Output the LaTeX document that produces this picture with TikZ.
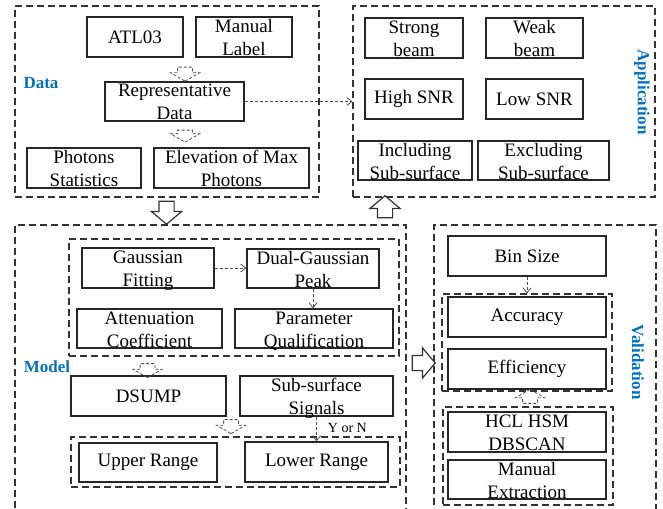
\documentclass[tikz,border=0pt]{standalone}
\usepackage{fontspec}
\setmainfont{Liberation Serif}
\usetikzlibrary{shapes.arrows,arrows.meta}
\definecolor{labelblue}{HTML}{0070C0}
\newcommand\topstrut{\rule{0pt}{14pt}}
\tikzset{
  box/.style={draw=black!85, line width=1.4pt, inner sep=0pt, minimum height=40pt, align=center, font=\fontsize{19}{23}\selectfont},
  two/.style={text depth=0pt},
  grp/.style={draw=black!80, line width=1.2pt, dash pattern=on 7pt off 4pt, inner sep=0pt},
  flow/.style={draw=black!70, line width=0.8pt, dash pattern=on 3pt off 2pt, -{Straight Barb[length=5pt,width=8pt]}},
  bigarrow/.style={single arrow, draw=black!80, line width=1.2pt, fill=white, inner xsep=0pt, inner ysep=7pt, minimum height=23pt, minimum width=29pt, single arrow head extend=7.5pt, single arrow tip angle=100},
  smallarrow/.style={single arrow, draw=black!70, line width=0.8pt, dash pattern=on 3pt off 2pt, inner xsep=0pt, inner ysep=7pt, minimum height=14pt, minimum width=28pt, single arrow head extend=7pt, single arrow tip angle=120},
  part/.style={font=\fontsize{17}{20}\selectfont\bfseries, text=labelblue, inner sep=0pt},
}
\begin{document}
\begin{tikzpicture}[x=1pt,y=-1pt]
\useasboundingbox (0,0) rectangle (663,508);
\clip (0,0) rectangle (663,508);
% outer groups
\node[grp, minimum width=304pt, minimum height=191pt] (datagrp) at (167,101.5) {};
\node[grp, minimum width=302pt, minimum height=191pt] (appgrp) at (504,101.5) {};
\node[grp, minimum width=391pt, minimum height=295pt] (modelgrp) at (210.5,372.5) {};
\node[grp, minimum width=222pt, minimum height=295pt] (valgrp) at (545,372.5) {};
% inner groups
\node[grp, minimum width=330pt, minimum height=117pt] (fitgrp) at (234,297.5) {};
\node[grp, minimum width=329pt, minimum height=50pt] (rangegrp) at (235.5,462) {};
\node[grp, minimum width=170pt, minimum height=97pt] (evalgrp) at (527,342.5) {};
\node[grp, minimum width=170pt, minimum height=98pt] (refgrp) at (528,456) {};
\node[part] (datalbl) at (41,83) {Data};
\node[part, rotate=-90] (applbl) at (642,92) {Application};
\node[part] (modellbl) at (47,367) {Model};
\node[part, rotate=-90] (vallbl) at (638,362) {Validation};
% data
\node[box, minimum width=96pt] (atl) at (135,37) {ATL03};
\node[box, two, minimum width=96pt] (manual) at (244,37) {\topstrut Manual\\Label};
\node[box, two, minimum width=139pt, minimum height=39pt] (repr) at (174.5,101.5) {\topstrut Representative\\Data};
\node[box, two, minimum width=114pt] (phstat) at (84,168) {\topstrut Photons\\Statistics};
\node[box, two, minimum width=155pt] (elev) at (231.5,168) {\topstrut Elevation of Max\\Photons};
\node[smallarrow, rotate=-90] (d1) at (185,72) {};
\node[smallarrow, rotate=-90, minimum height=12pt] (d2) at (185,134) {};
% application
\node[box, two, minimum width=98pt] (strong) at (414,38) {\topstrut Strong\\beam};
\node[box, two, minimum width=97pt] (weak) at (534.5,38) {\topstrut Weak\\beam};
\node[box, minimum width=98pt] (high) at (414,99) {High SNR};
\node[box, minimum width=97pt] (low) at (534.5,99) {Low SNR};
\node[box, two, minimum width=114pt, minimum height=39pt] (incl) at (415,160.5) {\topstrut Including\\Sub-surface};
\node[box, two, minimum width=131pt, minimum height=39pt] (excl) at (543.5,160.5) {\topstrut Excluding\\Sub-surface};
\draw[flow] (repr.east) -- (repr.east -| appgrp.west);
% model
\node[box, two, minimum width=132pt] (gauss) at (148,268) {\topstrut Gaussian\\Fitting};
\node[box, two, minimum width=132pt, minimum height=39pt] (dual) at (313,268.5) {\topstrut Dual-Gaussian\\Peak};
\node[box, two, minimum width=145pt, minimum height=39pt] (atten) at (149.5,328.5) {\topstrut Attenuation\\Coefficient};
\node[box, two, minimum width=158pt, minimum height=39pt] (param) at (314,328.5) {\topstrut Parameter\\Qualification};
\node[box, minimum width=155pt] (dsump) at (148.5,396) {DSUMP};
\node[box, two, minimum width=153pt] (subsig) at (316.5,396) {\topstrut Sub-surface\\Signals};
\node[box, minimum width=138pt, minimum height=39pt] (upper) at (148,462.5) {Upper Range};
\node[box, minimum width=143pt] (lower) at (316.5,462) {Lower Range};
\draw[flow] (gauss.east) -- (gauss.east -| dual.west);
\draw[flow] (dual.south) -- (dual.south |- param.north);
\draw[flow] (subsig.south) -- (lower.north) node[pos=0.45, right=11pt, inner sep=0pt, font=\fontsize{14}{16}\selectfont] (yn) {Y or N};
\node[smallarrow, rotate=-90] (d3) at (147.5,368.5) {};
\node[smallarrow, rotate=-90] (d4) at (231,424.5) {};
% validation
\node[box, minimum width=158pt] (binsize) at (527,256) {Bin Size};
\node[box, minimum width=158pt] (acc) at (527,317) {Accuracy};
\node[box, minimum width=158pt] (eff) at (527,369) {Efficiency};
\node[box, two, minimum width=158pt] (hcl) at (527,432) {\topstrut HCL HSM\\DBSCAN};
\node[box, two, minimum width=158pt, minimum height=39pt] (manext) at (527,479.5) {\topstrut Manual\\Extraction};
\draw[flow] (binsize.south) -- (binsize.south |- evalgrp.north);
\node[smallarrow, rotate=90] (d5) at (530,398.5) {};
% links between groups
\node[bigarrow, rotate=-90] (b1) at (166.5,209.5) {};
\node[bigarrow, rotate=90, minimum height=22pt, minimum width=28pt] (b2) at (385,210) {};
\node[bigarrow, minimum width=30pt] (b3) at (420.5,363) {};
\end{tikzpicture}
\end{document}
